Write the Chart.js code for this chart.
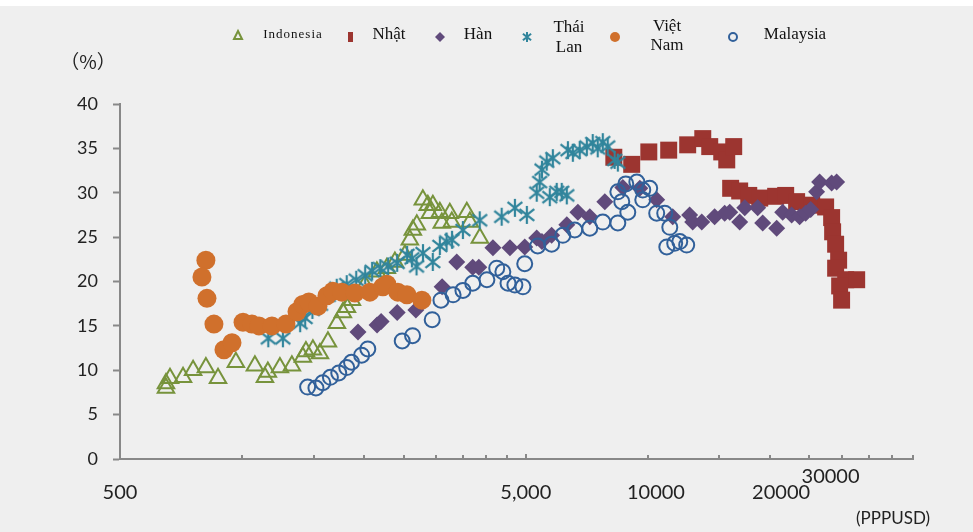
<!DOCTYPE html>
<html>
<head>
<meta charset="utf-8">
<script src="https://cdn.jsdelivr.net/npm/chart.js@4.4.0/dist/chart.umd.min.js"></script>
<style>
  html, body { margin: 0; background: #efefef; }
  canvas { display: block; }
</style>
</head>
<body>
<canvas id="chart" width="973" height="532"></canvas>
<script>
// GDP per capita (PPP USD, log axis) vs share (%)
const countryNames = ["Indonesia", "Nhật", "Hàn", "Thái Lan", "Việt Nam", "Malaysia"];

const indoX = [649, 649, 664, 715, 757, 814, 872, 965, 1075, 1138, 1157, 1239, 1326, 1411, 1436, 1494, 1555, 1627, 1712, 1771, 1812, 1864, 2006, 2148, 2273, 2379, 2518, 2590, 2634, 2694, 2788, 2868, 2951, 2901, 3070, 3105, 3249, 3286, 3578, 3640, 3853];
const indoY = [8.0, 8.5, 9.1, 9.2, 10.0, 10.3, 9.1, 10.9, 10.5, 9.2, 9.8, 10.3, 10.5, 11.5, 12.1, 12.3, 11.9, 13.2, 15.3, 16.5, 17.1, 17.9, 19.6, 21.1, 21.5, 22.2, 23.0, 24.7, 25.8, 26.4, 29.2, 28.6, 28.6, 27.7, 27.8, 26.6, 27.7, 26.7, 27.8, 26.7, 24.9];

const japanX = [8240, 9120, 10050, 11250, 12530, 13650, 14200, 15200, 15640, 16270, 15990, 16830, 17720, 18860, 20640, 21850, 23250, 25320, 27410, 28360, 28520, 29010, 29510, 29010, 30710, 29680, 32690, 30010];
const japanY = [34.0, 33.2, 34.6, 34.8, 35.4, 36.1, 35.2, 34.6, 33.7, 35.2, 30.5, 30.2, 29.7, 29.4, 29.6, 29.7, 29.0, 28.6, 28.4, 27.2, 25.6, 24.2, 22.4, 21.5, 20.2, 19.5, 20.2, 17.9];

const koreaX = [1930, 2150, 2200, 2410, 2680, 3110, 3380, 3700, 3830, 4150, 4570, 4970, 5320, 5480, 5790, 6310, 6720, 7190, 7830, 8670, 9550, 10510, 11510, 12670, 12890, 13570, 14600, 15460, 15910, 16830, 17320, 18640, 19180, 20760, 21480, 22600, 23650, 24470, 25180, 26040, 26490, 28360, 29170];
const koreaY = [14.3, 15.1, 15.5, 16.5, 16.8, 19.4, 22.2, 21.6, 21.6, 23.8, 23.8, 23.9, 24.9, 24.5, 25.2, 26.4, 27.8, 27.3, 29.0, 30.6, 30.5, 29.2, 27.3, 27.5, 26.7, 26.7, 27.3, 27.7, 27.8, 26.7, 28.3, 28.3, 26.6, 26.0, 27.8, 27.5, 27.3, 27.7, 28.1, 30.1, 31.2, 31.1, 31.2];

const thaiX = [1160, 1260, 1390, 1430, 1490, 1560, 1630, 1710, 1810, 1910, 2010, 2090, 2190, 2290, 2410, 2550, 2620, 2690, 2790, 2950, 3070, 3190, 3290, 3500, 3850, 4360, 4700, 5030, 5320, 5410, 5730, 5960, 6130, 6310, 5480, 5630, 5830, 6350, 6530, 6790, 7070, 7310, 7520, 7740, 7960, 8280, 8430];
const thaiY = [13.6, 13.6, 15.3, 15.9, 16.8, 17.4, 18.4, 19.3, 19.7, 20.2, 20.7, 21.2, 21.5, 21.7, 22.1, 23.0, 22.6, 21.7, 23.2, 22.2, 24.0, 24.5, 24.7, 25.8, 26.9, 27.3, 28.3, 27.5, 30.0, 31.2, 29.5, 30.1, 30.1, 29.7, 32.6, 33.5, 33.9, 34.8, 34.5, 34.8, 35.2, 35.6, 35.0, 35.7, 35.2, 33.7, 33.4];

const vietX = [814, 796, 819, 852, 902, 944, 1005, 1057, 1100, 1184, 1282, 1365, 1411, 1460, 1537, 1618, 1673, 1761, 1896, 2064, 2222, 2273, 2419, 2547, 2772];
const vietY = [22.4, 20.5, 18.1, 15.2, 12.3, 13.1, 15.4, 15.2, 15.0, 15.0, 15.2, 16.6, 17.4, 17.7, 17.2, 18.4, 18.9, 18.8, 18.7, 18.8, 19.4, 19.7, 18.8, 18.5, 17.9];

const malayX = [1450, 1520, 1580, 1650, 1730, 1810, 1860, 1970, 2040, 2480, 2630, 2940, 3090, 3310, 3500, 3700, 4010, 4240, 4390, 4520, 4700, 4920, 4970, 5350, 5790, 6170, 6600, 7190, 7740, 8430, 8920, 8620, 8430, 8820, 9390, 9710, 10100, 9710, 10510, 11000, 11320, 11130, 11640, 11980, 12460];
const malayY = [8.1, 8.0, 8.6, 9.2, 9.7, 10.3, 10.9, 11.7, 12.4, 13.3, 13.9, 15.7, 17.9, 18.5, 19.0, 19.8, 20.2, 21.5, 21.1, 19.8, 19.6, 19.4, 22.0, 24.0, 24.2, 25.2, 25.8, 26.0, 26.7, 26.6, 27.8, 29.0, 30.1, 31.0, 31.2, 30.3, 30.5, 29.2, 27.7, 27.7, 26.1, 23.9, 24.3, 24.5, 24.1];

const xTickValues = [500, 1000, 1500, 2000, 2500, 3000, 3500, 4000, 4500, 5000, 10000, 15000, 20000, 25000, 30000, 35000, 40000, 45000];
const xLabelValues = [500, 5000, 10000, 20000, 30000];
const xLabelTexts = ["500", "5,000", "10000", "20000", "30000"];

const GREEN = "#77933c", RED = "#9c3530", PURPLE = "#604a7b", TEAL = "#31859c", ORANGE = "#d0702c", BLUE = "#31609a";

function toPoints(xs, ys) {
    return xs.map((x, i) => ({ x: x, y: ys[i] }));
}

// asterisk marker (vertical bar + X)
function makeStar(color, size, lw) {
    const c = document.createElement("canvas");
    c.width = size; c.height = size;
    const g = c.getContext("2d");
    const m = size / 2, a = size / 2 - 1, d = a * 0.82;
    g.strokeStyle = color;
    g.lineWidth = lw;
    g.beginPath();
    g.moveTo(m, m - a); g.lineTo(m, m + a);
    g.moveTo(m - d, m - d * 0.8); g.lineTo(m + d, m + d * 0.8);
    g.moveTo(m + d, m - d * 0.8); g.lineTo(m - d, m + d * 0.8);
    g.stroke();
    return c;
}
const starImg = makeStar(TEAL, 20, 2.2);
const starSmall = makeStar(TEAL, 12, 2);

const datasets = [
    { label: countryNames[0], data: toPoints(indoX, indoY), pointStyle: "triangle", pointRadius: 9.5,
      backgroundColor: "rgba(0,0,0,0)", borderColor: GREEN, borderWidth: 2, order: 6 },
    { label: countryNames[1], data: toPoints(japanX, japanY), pointStyle: "rect", pointRadius: 12,
      backgroundColor: RED, borderColor: RED, borderWidth: 0, order: 5 },
    { label: countryNames[2], data: toPoints(koreaX, koreaY), pointStyle: "rectRot", pointRadius: 8.5,
      backgroundColor: PURPLE, borderColor: PURPLE, borderWidth: 0, order: 4 },
    { label: countryNames[3], data: toPoints(thaiX, thaiY), pointStyle: starImg, pointRadius: 10,
      backgroundColor: TEAL, borderColor: TEAL, order: 3 },
    { label: countryNames[4], data: toPoints(vietX, vietY), pointStyle: "circle", pointRadius: 9.5,
      backgroundColor: ORANGE, borderColor: ORANGE, borderWidth: 0, order: 2 },
    { label: countryNames[5], data: toPoints(malayX, malayY), pointStyle: "circle", pointRadius: 7.5,
      backgroundColor: "rgba(0,0,0,0)", borderColor: BLUE, borderWidth: 2, order: 1 }
];

const decor = {
    id: "decor",
    beforeDraw(chart) {
        const ctx = chart.ctx;
        ctx.save();
        ctx.fillStyle = "#efefef";
        ctx.fillRect(0, 0, chart.width, chart.height);
        ctx.fillStyle = "#ffffff";
        ctx.fillRect(0, 0, chart.width, 6);
        ctx.restore();
    },
    afterDraw(chart) {
        const ctx = chart.ctx;
        const xs = chart.scales.x;
        const bottom = chart.chartArea.bottom;
        ctx.save();

        // small tick marks pointing up into the plot
        ctx.strokeStyle = "#888";
        ctx.lineWidth = 2;
        xTickValues.forEach(v => {
            const px = Math.round(xs.getPixelForValue(v));
            ctx.beginPath();
            ctx.moveTo(px, bottom);
            ctx.lineTo(px, bottom - (v === 5000 ? 5 : 4));
            ctx.stroke();
        });

        // x labels (hand placed in the original)
        const shift = [[0, 0], [0, 0], [8, 0], [11, 0], [-11, -16]];
        ctx.fillStyle = "#222";
        ctx.font = "20px Lato";
        ctx.textAlign = "center";
        ctx.textBaseline = "middle";
        xLabelValues.forEach((v, i) => {
            const px = xs.getPixelForValue(v);
            ctx.fillText(xLabelTexts[i], px + shift[i][0], 493 + shift[i][1]);
        });
        ctx.font = "17px Lato";
        ctx.fillText("(PPPUSD)", 893, 519);
        ctx.font = '19px "Noto Sans CJK JP"';
        ctx.fillText("（%）", 88, 62);

        // legend
        const serif = '"Liberation Serif", serif';
        ctx.fillStyle = "#111";
        ctx.font = "13px " + serif;
        ctx.letterSpacing = "1px";
        ctx.fillText("Indonesia", 293, 35);
        ctx.letterSpacing = "0px";
        ctx.font = "17px " + serif;
        ctx.fillText("Nhật", 389, 35);
        ctx.fillText("Hàn", 478, 35);
        ctx.fillText("Thái", 569, 28);
        ctx.fillText("Lan", 569, 48);
        ctx.fillText("Việt", 667, 27);
        ctx.fillText("Nam", 667, 46);
        ctx.fillText("Malaysia", 795, 35);

        // legend markers
        ctx.lineWidth = 2;
        ctx.strokeStyle = GREEN;
        ctx.beginPath();
        ctx.moveTo(238, 31); ctx.lineTo(242, 39); ctx.lineTo(234, 39); ctx.closePath();
        ctx.stroke();

        ctx.fillStyle = RED;
        ctx.fillRect(348, 32, 5, 10);

        ctx.fillStyle = PURPLE;
        ctx.beginPath();
        ctx.moveTo(440, 32); ctx.lineTo(445, 37); ctx.lineTo(440, 42); ctx.lineTo(435, 37); ctx.closePath();
        ctx.fill();

        ctx.drawImage(starSmall, 527 - 6, 37 - 6);

        ctx.fillStyle = ORANGE;
        ctx.beginPath();
        ctx.arc(615, 37, 5, 0, Math.PI * 2);
        ctx.fill();

        ctx.strokeStyle = BLUE;
        ctx.beginPath();
        ctx.arc(733, 37, 4, 0, Math.PI * 2);
        ctx.stroke();

        ctx.restore();
    }
};

new Chart(document.getElementById("chart"), {
    type: "scatter",
    data: { datasets: datasets },
    options: {
        responsive: false,
        animation: false,
        layout: { padding: { top: 104, right: 60, left: 0, bottom: 0 } },
        plugins: {
            legend: { display: false },
            tooltip: { enabled: false }
        },
        scales: {
            x: {
                type: "logarithmic",
                min: 500,
                max: 45000,
                afterBuildTicks: s => { s.ticks = xTickValues.map(v => ({ value: v })); },
                afterFit: s => { s.height = 73; },
                ticks: { display: false },
                grid: { display: true, drawOnChartArea: false, drawTicks: false },
                border: { color: "#888", width: 2 }
            },
            y: {
                min: 0,
                max: 40,
                afterFit: s => { s.width = 120; },
                ticks: { stepSize: 5, padding: 15, color: "#222", font: { family: "Lato", size: 18 } },
                grid: { drawOnChartArea: false, tickLength: 7, tickColor: "#888", tickWidth: 2 },
                border: { color: "#888", width: 2 }
            }
        }
    },
    plugins: [decor]
});
</script>
</body>
</html>
